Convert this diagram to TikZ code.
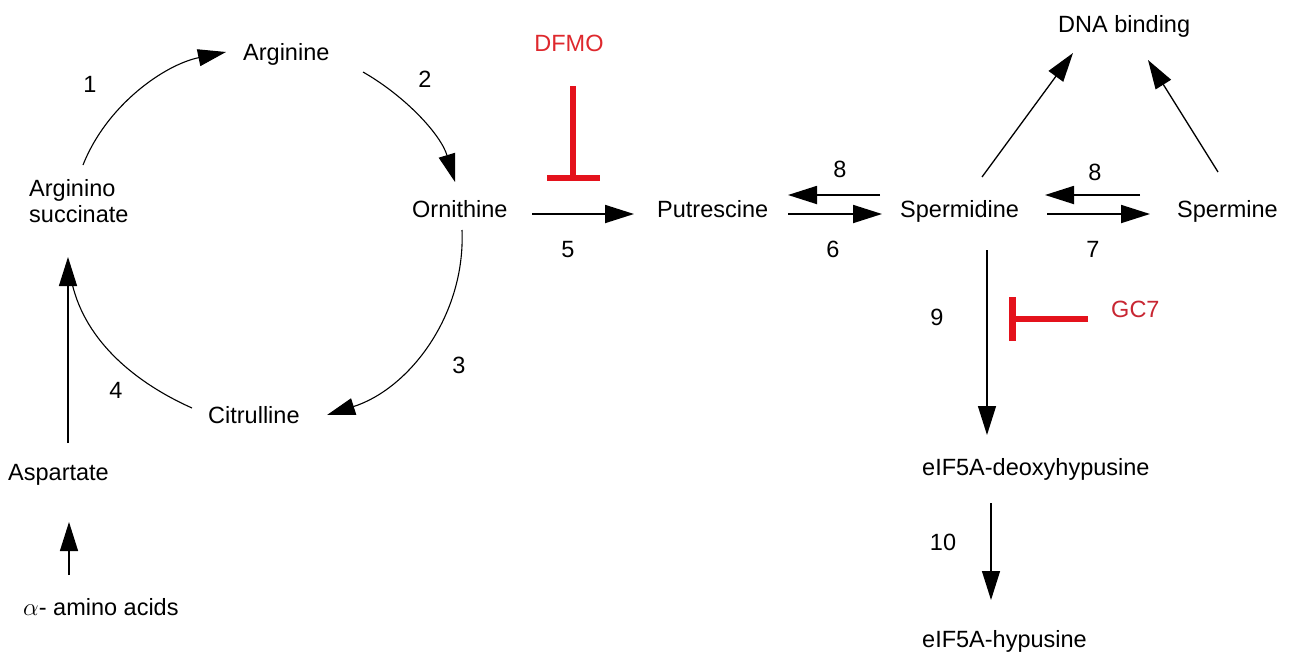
\documentclass[tikz,border=0pt]{standalone}
\usepackage{fontspec}
\setmainfont{Liberation Sans}
\usetikzlibrary{arrows.meta,calc}
\definecolor{inhred}{RGB}{228,18,28}
\definecolor{dfmored}{RGB}{222,40,45}
\definecolor{gcred}{RGB}{200,38,50}
\begin{document}
\begin{tikzpicture}[x=1pt,y=-1pt,
  txt/.style={inner sep=0pt,anchor=base west,font=\fontsize{23.5}{27}\selectfont},
  lbl/.style={inner sep=0pt,anchor=base,font=\fontsize{23.5}{27}\selectfont},
  tip/.style={-{Triangle[length=29pt,width=18pt]}},
  arcarrow/.style={-{Triangle[length=28pt,width=17pt]},line width=1.1pt},
  arcplain/.style={line width=1.1pt},
  straight/.style={tip,line width=1.8pt},
  thin arrow/.style={tip,line width=1.3pt},
  inhib/.style={draw=inhred,line width=6.5pt,-{Bar[width=44pt]}}]
\useasboundingbox (0,0) rectangle (1289,654);

% metabolite nodes
\node[txt] (arg)   at (243,60)  {Arginine};
\node[txt] (asuc1) at (29,196)  {Arginino};
\node[txt] (asuc2) at (29,222)  {succinate};
\node[txt] (orn)   at (412,217) {Ornithine};
\node[txt] (cit)   at (208,423) {Citrulline};
\node[txt] (asp)   at (8,480)   {Aspartate};
\node[txt] (aa)    at (23,615)  {$\alpha$- amino acids};
\node[txt] (put)   at (657,217) {Putrescine};
\node[txt] (spd)   at (900,217) {Spermidine};
\node[txt] (spm)   at (1177,217){Spermine};
\node[txt] (dna)   at (1058,32) {DNA binding};
\node[txt] (deoxy) at (922,475) {eIF5A-deoxyhypusine};
\node[txt] (hyp)   at (922,647) {eIF5A-hypusine};
\node[lbl,text=dfmored] (dfmo) at (569,51) {DFMO};
\node[txt,text=gcred] (gc7) at (1111,317) {GC7};

% step labels
\node[lbl] (l1)  at (90,92)   {1};
\node[lbl] (l2)  at (425,87)  {2};
\node[lbl] (l3)  at (459,373) {3};
\node[lbl] (l4)  at (116,398) {4};
\node[lbl] (l5)  at (568,257) {5};
\node[lbl] (l6)  at (833,257) {6};
\node[lbl] (l8a) at (840,177) {8};
\node[lbl] (l8b) at (1095,180){8};
\node[lbl] (l7)  at (1093,257){7};
\node[lbl] (l9)  at (937,325) {9};
\node[lbl] (l10) at (943,550) {10};

% urea cycle arcs
\draw[arcarrow] ($(asuc1.base west)+(54,-31)$) .. controls (106.6,105.2) and (164.2,64.8) .. ($(arg.base west)+(-17,-8)$);
\draw[arcarrow] ($(arg.base west)+(120,12)$) .. controls (405.9,96.6) and (440.8,134.7) .. ($(orn.base west)+(43,-35)$);
\draw[arcarrow] ($(orn.base west)+(50,13)$) .. controls (465.6,316) and (408.7,389) .. ($(cit.base west)+(119,-8)$);
\draw[arcplain] ($(cit.base west)+(-16,-15)$) .. controls (136.7,383.3) and (85.5,342.1) .. ($(asuc2.base west)+(43,61)$);

% aspartate inputs
\draw[thin arrow] ($(asp.base west)+(60,-37)$) -- ($(asuc2.base west)+(39,35)$);
\draw[thin arrow] ($(aa.base west)+(46,-40)$) -- ($(asp.base west)+(61,42)$);

% polyamine arrows
\draw[straight] ($(orn.base west)+(120,-3)$) -- ($(put.base west)+(-23,-3)$);
\draw[straight] ($(put.base west)+(131,-3)$) -- ($(spd.base west)+(-18,-3)$);
\draw[straight] ($(spd.base west)+(-20,-22)$) -- ($(put.base west)+(131,-22)$);
\draw[straight] ($(spd.base west)+(147,-3)$) -- ($(spm.base west)+(-27,-3)$);
\draw[straight] ($(spm.base west)+(-37,-22)$) -- ($(spd.base west)+(145,-22)$);
\draw[thin arrow] ($(spd.base west)+(82,-40)$) -- ($(dna.base west)+(15,21)$);
\draw[thin arrow] ($(spm.base west)+(41,-45)$) -- ($(dna.base west)+(90,28)$);
\draw[thin arrow] ($(spd.base west)+(87,33)$) -- ($(deoxy.base west)+(65,-40)$);
\draw[thin arrow] ($(deoxy.base west)+(69,28)$) -- ($(hyp.base west)+(69,-47)$);

% inhibitors
\draw[inhib,-{Bar[width=53pt]}] ($(dfmo.base)+(4,35)$) -- ($(dfmo.base)+(4,130)$);
\draw[inhib] ($(gc7.base west)+(-23,2)$) -- ($(gc7.base west)+(-102,2)$);
\end{tikzpicture}
\end{document}
